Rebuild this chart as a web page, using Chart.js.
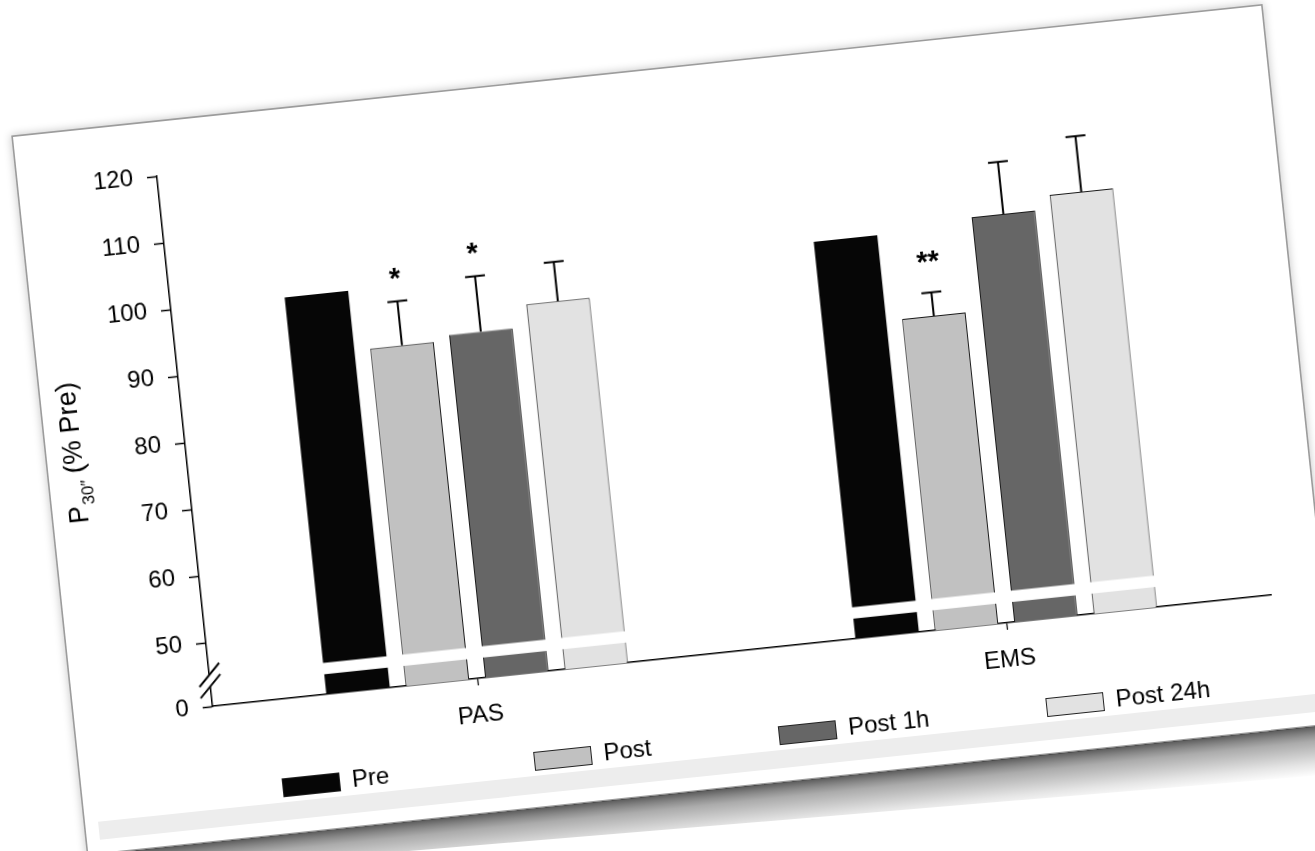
<!DOCTYPE html>
<html>
<head>
<meta charset="utf-8">
<script src="https://cdn.jsdelivr.net/npm/chart.js@4.4.1/dist/chart.umd.min.js"></script>
<style>
html,body{margin:0;padding:0;background:#fff;width:1315px;height:851px;overflow:hidden;}
#card{position:absolute;left:13px;top:137px;width:1255px;height:721px;background:#fff;
  transform-origin:0 0;transform:rotate(-6deg);
  box-shadow:0 0 0 1.6px #9c9c9c, 0 0 8px 2px rgba(0,0,0,0.22);}
#strip{position:absolute;left:13px;right:13px;top:690px;height:18px;background:#ededed;}
#shadow{position:absolute;left:-2px;right:-8px;top:722px;height:50px;
  background:linear-gradient(to bottom, rgba(0,0,0,0.6), rgba(0,0,0,0.33) 30%, rgba(0,0,0,0.1) 75%, rgba(0,0,0,0) 100%);
  clip-path:polygon(0 0,100% 0,100% 100%,0 45%);}
#chart{position:absolute;left:0;top:0;}
</style>
</head>
<body>
<div id="card">
  <div id="strip"></div>
  <div id="shadow"></div>
  <canvas id="chart" width="1255" height="721" style="width:1255px;height:721px"></canvas>
</div>
<script>
// ---------------- data ----------------
const categories = ['PAS', 'EMS'];
const seriesLabels = ['Pre', 'Post', 'Post 1h', 'Post 24h'];
const preValues = [100.0, 100.0];
const postValues = [91.1, 87.2];
const post1hValues = [91.9, 101.2];
const post24hValues = [95.2, 103.3];
const preErrors = [0, 0];
const postErrors = [6.6, 3.5];
const post1hErrors = [8.3, 7.8];
const post24hErrors = [5.9, 8.3];
const preMarks = ['', ''];
const postMarks = ['*', '**'];
const post1hMarks = ['*', ''];
const post24hMarks = ['', ''];
const yTickValues = [50, 60, 70, 80, 90, 100, 110, 120];
const yZeroTickLabel = '0';

// ---------------- broken axis layout (plot units) ----------------
const ZERO_POS = 40.5;    // where the "0" of the lower segment sits
const BREAK_LOW = 43.5;   // bottom of the break band
const BREAK_HIGH = 45.2;  // top of the break band
const Y_MAX = 120;

// ---------------- styles ----------------
const FONT = "'Liberation Sans', Arial, Helvetica, sans-serif";
const fills = ['#060606', '#c1c1c1', '#666666', '#e2e2e2'];
const valuesList = [preValues, postValues, post1hValues, post24hValues];
const errorsList = [preErrors, postErrors, post1hErrors, post24hErrors];
const marksList = [preMarks, postMarks, post1hMarks, post24hMarks];
const LEGEND_LEFT = [200, 453, 699, 968];
const LEGEND_BOX_TOP = 666, LEGEND_BOX_W = 58, LEGEND_BOX_H = 19, LEGEND_TEXT_BASE = 682;
const TITLE_BASELINE_X = 35;

Chart.defaults.font.family = FONT;
Chart.defaults.color = '#000';

const errorBarPlugin = {
  id: 'errorBars',
  afterDatasetsDraw(chart) {
    const ctx = chart.ctx, y = chart.scales.y;
    ctx.save();
    ctx.strokeStyle = '#000';
    ctx.lineWidth = 2;
    chart.data.datasets.forEach((ds, di) => {
      const meta = chart.getDatasetMeta(di);
      meta.data.forEach((bar, j) => {
        const e = errorsList[di][j];
        const top = y.getPixelForValue(ds.data[j] + e);
        if (e) {
          ctx.beginPath();
          ctx.moveTo(bar.x, bar.y);
          ctx.lineTo(bar.x, top);
          ctx.moveTo(bar.x - 10, top);
          ctx.lineTo(bar.x + 10, top);
          ctx.stroke();
        }
        const m = marksList[di][j];
        if (m) {
          ctx.fillStyle = '#000';
          ctx.font = 'bold 29px ' + FONT;
          ctx.textAlign = 'center';
          ctx.textBaseline = 'alphabetic';
          const lift = m.length > 1 ? 38 : 31;
          ctx.fillText(m, bar.x, top - lift + 17);
        }
      });
    });
    // axis break band + slashes
    const a = chart.chartArea;
    const yHi = y.getPixelForValue(BREAK_HIGH), yLo = y.getPixelForValue(BREAK_LOW);
    ctx.fillStyle = '#fff';
    ctx.fillRect(a.left - 3, yHi, a.right - a.left + 3, yLo - yHi);
    ctx.strokeStyle = '#000';
    ctx.lineWidth = 2;
    [yHi, yLo].forEach(py => {
      ctx.beginPath();
      ctx.moveTo(a.left - 11, py + 11);
      ctx.lineTo(a.left + 11, py - 11);
      ctx.stroke();
    });
    ctx.restore();
  },
  afterDraw(chart) {
    const ctx = chart.ctx, a = chart.chartArea;
    ctx.save();
    // y axis title with subscript
    ctx.translate(TITLE_BASELINE_X, (a.top + a.bottom) / 2);
    ctx.rotate(-Math.PI / 2);
    ctx.fillStyle = '#000';
    ctx.textBaseline = 'alphabetic';
    ctx.textAlign = 'left';
    const f1 = '27px ' + FONT, f2 = '17px ' + FONT;
    const p1 = 'P', p2 = '30\u2033', p3 = ' (% Pre)';
    ctx.font = f1; const w1 = ctx.measureText(p1).width, w3 = ctx.measureText(p3).width;
    ctx.font = f2; const w2 = ctx.measureText(p2).width;
    let x = -(w1 + w2 + w3) / 2;
    ctx.font = f1; ctx.fillText(p1, x, 0); x += w1;
    ctx.font = f2; ctx.fillText(p2, x, 8); x += w2;
    ctx.font = f1; ctx.fillText(p3, x, 0);
    ctx.restore();

    // legend
    ctx.save();
    ctx.font = '24px ' + FONT;
    ctx.textBaseline = 'alphabetic';
    ctx.textAlign = 'left';
    chart.data.datasets.forEach((ds, i) => {
      const lx = LEGEND_LEFT[i];
      ctx.fillStyle = ds.backgroundColor;
      ctx.fillRect(lx, LEGEND_BOX_TOP, LEGEND_BOX_W, LEGEND_BOX_H);
      ctx.strokeStyle = '#222';
      ctx.lineWidth = 1;
      ctx.strokeRect(lx + 0.5, LEGEND_BOX_TOP + 0.5, LEGEND_BOX_W - 1, LEGEND_BOX_H - 1);
      ctx.fillStyle = '#000';
      ctx.fillText(ds.label, lx + LEGEND_BOX_W + 12, LEGEND_TEXT_BASE);
    });
    ctx.restore();
  }
};

new Chart(document.getElementById('chart'), {
  type: 'bar',
  data: {
    labels: categories,
    datasets: seriesLabels.map((lab, i) => ({
      label: lab,
      data: valuesList[i],
      backgroundColor: fills[i],
      borderColor: '#1a1a1a',
      borderWidth: i === 0 ? 0 : 1,
      categoryPercentage: 0.6,
      barPercentage: 0.8
    }))
  },
  options: {
    responsive: false,
    animation: false,
    devicePixelRatio: 1,
    layout: { padding: { left: 0, top: 54, right: 52, bottom: 0 } },
    plugins: { legend: { display: false }, tooltip: { enabled: false } },
    scales: {
      x: {
        type: 'category',
        offset: true,
        grid: { display: true, offset: false, drawOnChartArea: false, tickLength: 7, tickColor: '#000', tickWidth: 1.2 },
        border: { display: true, color: '#000', width: 1.5 },
        ticks: { font: { size: 24 }, color: '#000', padding: 16 },
        afterFit(scale) { scale.height = 721 - 587; }
      },
      y: {
        type: 'linear',
        min: ZERO_POS,
        max: Y_MAX,
        grid: { display: true, drawOnChartArea: false, tickLength: 10, tickColor: '#000', tickWidth: 1.5 },
        border: { display: true, color: '#000', width: 1.5 },
        ticks: {
          font: { size: 24 }, color: '#000', padding: 14, autoSkip: false,
          callback: (v) => (v === ZERO_POS ? yZeroTickLabel : String(v))
        },
        afterBuildTicks(scale) {
          scale.ticks = [ZERO_POS].concat(yTickValues).map(v => ({ value: v }));
        },
        afterFit(scale) { scale.width = 139; }
      }
    }
  },
  plugins: [errorBarPlugin]
});
</script>
</body>
</html>
